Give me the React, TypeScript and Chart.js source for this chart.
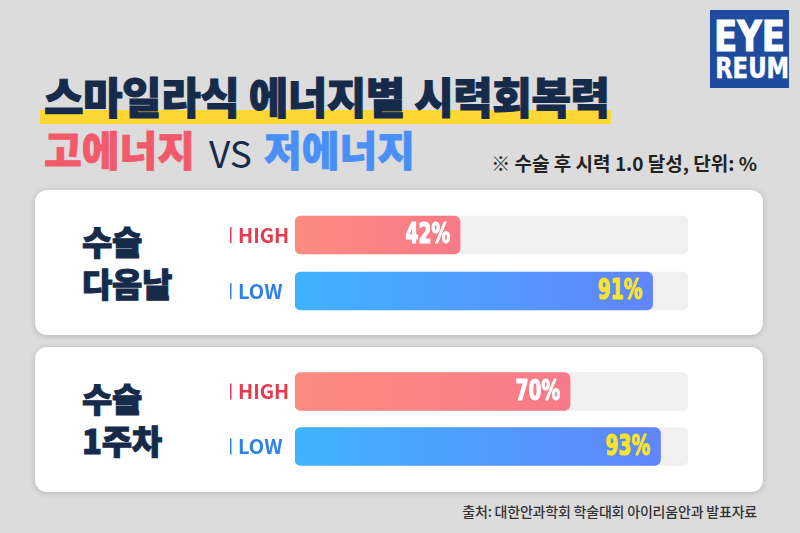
import React, { useEffect, useRef } from "react";
import { Chart, registerables } from "chart.js";

Chart.register(...registerables);

// ---- data ----
const periodLabels: string[][] = [["수술", "다음날"], ["수술", "1주차"]];
const energyLabels = ["HIGH", "LOW"];
const highEnergyRates = [42, 70];
const lowEnergyRates = [91, 93];
const scaleMax = 100;

// ---- styles ----
const KR = '"Noto Sans CJK KR", "Noto Sans", sans-serif';
const NARROW = '"DejaVu Sans Condensed", "Liberation Sans", sans-serif';
const NAVY = "#162a4a";
const labelColors = ["#e8394f", "#2f80e8"];
const valueTextColors = ["#ffffff", "#fbe52b"];
const gradientStops = [
  ["#fb8b7f", "#f87a88"],
  ["#3fb3ff", "#6185fc"],
];
const TICK_FONT_SIZE = 20;
const TICK_PAD = Math.round((TICK_FONT_SIZE * 1.2) / 2);

const valueLabelPlugin = {
  id: "valueLabels",
  afterDatasetsDraw(chart: any) {
    const ctx = chart.ctx;
    const meta = chart.getDatasetMeta(0);
    const data = chart.data.datasets[0].data;
    ctx.save();
    ctx.font = `bold 28px ${NARROW}`;
    ctx.textAlign = "right";
    ctx.textBaseline = "middle";
    meta.data.forEach((bar: any, i: number) => {
      ctx.save();
      ctx.fillStyle = valueTextColors[i];
      ctx.strokeStyle = valueTextColors[i];
      ctx.lineWidth = 1.2;
      ctx.lineJoin = "round";
      ctx.translate(bar.x - 10, bar.y + 1);
      ctx.scale(0.74, 1);
      ctx.fillText(`${data[i]}%`, 0, 0);
      ctx.strokeText(`${data[i]}%`, 0, 0);
      ctx.restore();
    });
    const y = chart.scales.y;
    y.ticks.forEach((_t: any, i: number) => {
      const py = y.getPixelForTick(i);
      ctx.fillStyle = labelColors[i];
      ctx.fillRect(y.left - 8, py - 8, 1.5, 16);
    });
    ctx.restore();
  },
};

function BarChart({ index, top, height }: { index: number; top: number; height: number }) {
  const ref = useRef<HTMLCanvasElement | null>(null);
  useEffect(() => {
    const values = [highEnergyRates[index], lowEnergyRates[index]];
    const chart = new Chart(ref.current as HTMLCanvasElement, {
      type: "bar",
      data: {
        labels: energyLabels,
        datasets: [
          {
            data: values,
            backgroundColor: (c: any) => {
              const ch = c.chart;
              const stops = gradientStops[c.dataIndex] || gradientStops[0];
              if (!ch.chartArea || !ch.scales.x || c.raw == null) return stops[0];
              const x0 = ch.scales.x.getPixelForValue(0);
              const x1 = ch.scales.x.getPixelForValue(c.raw);
              const g = ch.ctx.createLinearGradient(x0, 0, x1, 0);
              g.addColorStop(0, stops[0]);
              g.addColorStop(1, stops[1]);
              return g;
            },
            barThickness: 38,
            borderRadius: 6,
            borderSkipped: false,
            grouped: false,
          } as any,
          {
            data: energyLabels.map(() => scaleMax),
            backgroundColor: "#f0f0f0",
            barThickness: 38,
            borderRadius: 6,
            borderSkipped: false,
            grouped: false,
          } as any,
        ],
      },
      options: {
        indexAxis: "y",
        responsive: false,
        maintainAspectRatio: false,
        animation: false,
        layout: { padding: { left: 10, right: 0, top: 0, bottom: 0 } },
        plugins: { legend: { display: false }, tooltip: { enabled: false } },
        scales: {
          x: { display: false, min: 0, max: scaleMax },
          y: {
            grid: { display: false },
            border: { display: false },
            afterFit: (s: any) => {
              s.width = 57;
            },
            ticks: {
              crossAlign: "far",
              padding: 0,
              color: (c: any) => labelColors[c.index],
              font: { family: KR, size: TICK_FONT_SIZE, weight: "bold" },
            },
          },
        },
      } as any,
      plugins: [valueLabelPlugin],
    });
    return () => chart.destroy();
  }, [index]);
  const h = height + TICK_PAD * 2;
  return (
    <canvas
      ref={ref}
      width={460}
      height={h}
      style={{ position: "absolute", left: 228, top: top - TICK_PAD, width: 460, height: h }}
    />
  );
}

function Card({ index, top }: { index: number; top: number }) {
  return (
    <>
      <div
        style={{
          position: "absolute",
          left: 35,
          top,
          width: 728,
          height: 145,
          background: "#ffffff",
          borderRadius: 12,
          boxShadow: "0 1px 6px rgba(0,0,0,0.18)",
        }}
      />
      <div
        style={{
          position: "absolute",
          left: 82,
          top: top + 30,
          fontFamily: KR,
          fontWeight: 900,
          fontSize: 33,
          lineHeight: "42px",
          color: NAVY,
          letterSpacing: -0.3,
          WebkitTextStroke: `1px ${NAVY}`,
        }}
      >
        {periodLabels[index].map((l, i) => (
          <div key={i}>{l}</div>
        ))}
      </div>
    </>
  );
}

export default function App() {
  useEffect(() => {
    document.body.style.margin = "0";
  }, []);
  return (
    <div
      style={{
        position: "fixed",
        left: 0,
        top: 0,
        width: 800,
        height: 533,
        background: "#dcdcdc",
        overflow: "hidden",
        fontFamily: KR,
      }}
    >
      {/* logo */}
      <div
        style={{
          position: "absolute",
          left: 710,
          top: 10,
          width: 79,
          height: 78,
          background: "#1f4b9f",
          color: "#fff",
          fontFamily: NARROW,
          fontWeight: "bold",
          textAlign: "center",
        }}
      >
        <div style={{ position: "absolute", left: 0, right: 0, top: 6, fontSize: 42, lineHeight: "42px", transform: "scaleX(0.9)", WebkitTextStroke: "1px #fff" }}>EYE</div>
        <div style={{ position: "absolute", left: 0, right: 0, top: 44, fontSize: 29, lineHeight: "29px", transform: "scaleX(0.87)", WebkitTextStroke: "0.5px #fff" }}>REUM</div>
      </div>

      {/* title */}
      <div style={{ position: "absolute", left: 40, top: 110, width: 571, height: 14, background: "#fdd835" }} />
      <div
        style={{
          position: "absolute",
          left: 44,
          top: 74,
          fontSize: 43,
          lineHeight: "43px",
          fontWeight: 900,
          color: NAVY,
          whiteSpace: "nowrap",
          letterSpacing: -0.5,
          WebkitTextStroke: `1px ${NAVY}`,
        }}
      >
        스마일라식 에너지별 시력회복력
      </div>
      <div style={{ position: "absolute", left: 44, top: 128, fontSize: 41, lineHeight: "41px", fontWeight: 900, color: "#f2596b", whiteSpace: "nowrap", WebkitTextStroke: "0.8px #f2596b" }}>
        고에너지
      </div>
      <div style={{ position: "absolute", left: 209, top: 134, fontSize: 37, lineHeight: "37px", fontWeight: 400, color: NAVY, whiteSpace: "nowrap" }}>
        VS
      </div>
      <div style={{ position: "absolute", left: 264, top: 128, fontSize: 41, lineHeight: "41px", fontWeight: 900, color: "#4a8ff5", whiteSpace: "nowrap", WebkitTextStroke: "0.8px #4a8ff5" }}>
        저에너지
      </div>
      <div
        style={{
          position: "absolute",
          right: 43,
          top: 151,
          fontSize: 19,
          lineHeight: "23px",
          fontWeight: 700,
          color: "#222",
          whiteSpace: "nowrap",
        }}
      >
        ※ 수술 후 시력 1.0 달성, 단위: %
      </div>

      <Card index={0} top={190} />
      <Card index={1} top={347} />
      <BarChart index={0} top={207} height={112} />
      <BarChart index={1} top={364} height={110} />

      <div
        style={{
          position: "absolute",
          right: 43,
          top: 502,
          fontSize: 14,
          lineHeight: "18px",
          fontWeight: 500,
          color: "#333",
          whiteSpace: "nowrap",
          letterSpacing: -0.2,
        }}
      >
        출처: 대한안과학회 학술대회 아이리움안과 발표자료
      </div>
    </div>
  );
}
